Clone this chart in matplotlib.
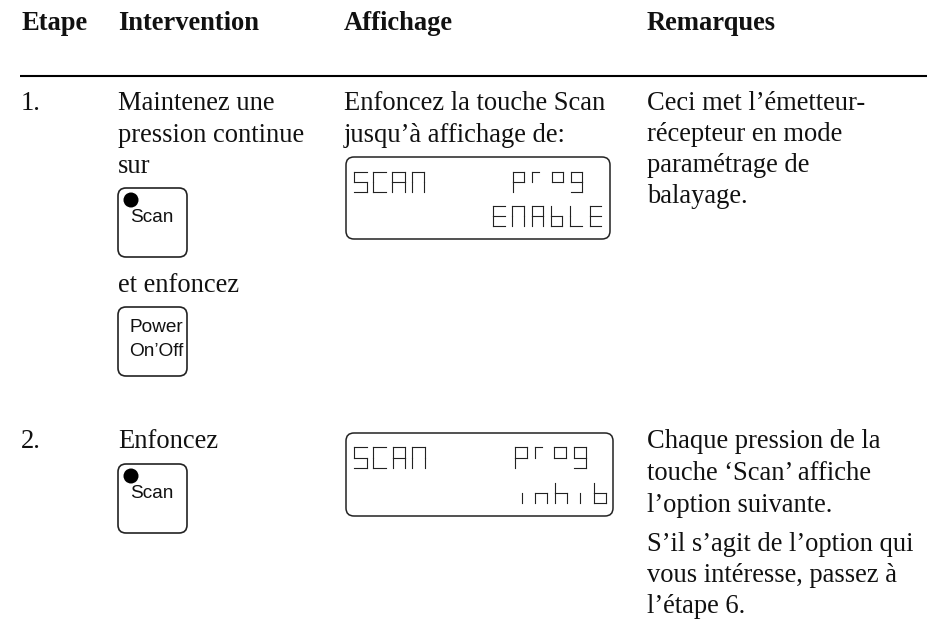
"""
Page of a transceiver manual: scan programming steps, redrawn in pixel coordinates.
"""
from matplotlib import pyplot as plt
from matplotlib.patches import Circle, FancyBboxPatch

plt.rcParams['font.family'] = ['Liberation Serif', 'DejaVu Serif']

headers = ["Etape", "Intervention", "Affichage", "Remarques"]
step_numbers = ["1.", "2."]
intervention_1 = ["Maintenez une", "pression continue", "sur"]
intervention_1b = "et enfoncez"
intervention_2 = "Enfoncez"
display_1 = ["Enfoncez la touche Scan", "jusqu’à affichage de:"]
remarks_1 = ["Ceci met l’émetteur-", "récepteur en mode", "paramétrage de", "balayage."]
remarks_2a = ["Chaque pression de la", "touche ‘Scan’ affiche", "l’option suivante."]
remarks_2b = ["S’il s’agit de l’option qui", "vous intéresse, passez à", "l’étape 6."]
lcd_1_top = "SCAN"
lcd_1_right = "prog"
lcd_1_bottom = "ENAbLE"
lcd_2_bottom = "inhib"

FONT = 19.1
KEY_FONT = 13.7
INK = '#111111'

# seven segment strokes per letter, a top, b/c right, d bottom, e/f left, g middle
SEGMENTS = {
    'a': [(0, 0), (1, 0)], 'b': [(1, 0), (1, .5)], 'c': [(1, .5), (1, 1)],
    'd': [(0, 1), (1, 1)], 'e': [(0, .5), (0, 1)], 'f': [(0, 0), (0, .5)],
    'g': [(0, .5), (1, .5)], 'i': [(.5, .5), (.5, 1)], 'r': [(0, 0), (.6, 0)],
}
GLYPHS = {
    'S': 'afgcd', 'C': 'afed', 'A': 'abcefg', 'N': 'abcef', 'E': 'afged',
    'b': 'fegcd', 'L': 'fed', 'p': 'abgfe', 'r': 'rf', 'o': 'abgf',
    'g': 'abgfcd', 'n': 'gec', 'h': 'fegc', 'i': 'i',
}

fig = plt.figure(figsize=(9.39, 6.19), dpi=100)
ax = fig.add_axes([0, 0, 1, 1])
ax.set_xlim(0, 939)
ax.set_ylim(619, 0)
ax.axis('off')


def label(x, y, s, **kw):
    ax.text(x, y, s, fontsize=FONT, va='baseline', color=INK, **kw)


def lines(x, y, rows, step=31.5):
    for i, row in enumerate(rows):
        label(x, y + i * step, row)


def lcd_word(word, x, y, w, h, pitch):
    for k, ch in enumerate(word):
        for seg in GLYPHS[ch]:
            pts = SEGMENTS[seg]
            ax.plot([x + k * pitch + px * w for px, _ in pts],
                    [y + py * h for _, py in pts], color='#222222', lw=0.8,
                    solid_capstyle='projecting')


def lcd_box(x0, y0, x1, y1):
    ax.add_patch(FancyBboxPatch((x0 + 8, y0 + 8), x1 - x0 - 16, y1 - y0 - 16,
                                boxstyle="round,pad=8,rounding_size=8",
                                fc='white', ec='#222222', lw=1.1))


def key(x0, y0, rows, dot=False):
    ax.add_patch(FancyBboxPatch((x0 + 8, y0 + 8), 53, 53,
                                boxstyle="round,pad=8,rounding_size=8",
                                fc='white', ec='#222222', lw=1.2))
    if dot:
        ax.add_patch(Circle((x0 + 13, y0 + 12), 7.5, fc='black', ec='none', zorder=3))
    for xx, yy, row in rows:
        ax.text(x0 + xx, y0 + yy, row, family='Liberation Sans', fontsize=KEY_FONT,
                ha='center', va='center', color=INK, zorder=4)


for x, h in zip([21, 118, 344, 647], headers):
    label(x, 30, h, fontweight='bold')
ax.plot([20, 927], [76, 76], color='black', lw=1.5, solid_capstyle='butt')

label(21, 110, step_numbers[0])
lines(118, 110, intervention_1)
key(118, 188, [(34, 29, "Scan")], dot=True)
label(118, 291.7, intervention_1b)
key(118, 307, [(38, 21, "Power"), (38, 44, "On’Off")])
lines(344, 110, display_1)
lcd_box(346, 157, 610, 239)
lcd_word(lcd_1_top, 354, 172, 12.5, 20, 19.2)
lcd_word(lcd_1_right, 513, 172, 11, 20, 19.3)
lcd_word(lcd_1_bottom, 493, 206, 11.5, 20, 19.3)
lines(647, 110, remarks_1, step=31)

label(21, 448, step_numbers[1])
label(118, 448, intervention_2)
key(118, 464, [(34, 29, "Scan")], dot=True)
lcd_box(346, 433, 613, 516)
lcd_word(lcd_1_top, 354, 447, 12.5, 21, 19.4)
lcd_word(lcd_1_right, 515, 447, 12, 21, 19.7)
lcd_word(lcd_2_bottom, 515.5, 483, 12, 20, 19.5)
lines(647, 448, remarks_2a, step=32)
lines(647, 551, remarks_2b, step=31)

fig.savefig("out.png", dpi=100)
